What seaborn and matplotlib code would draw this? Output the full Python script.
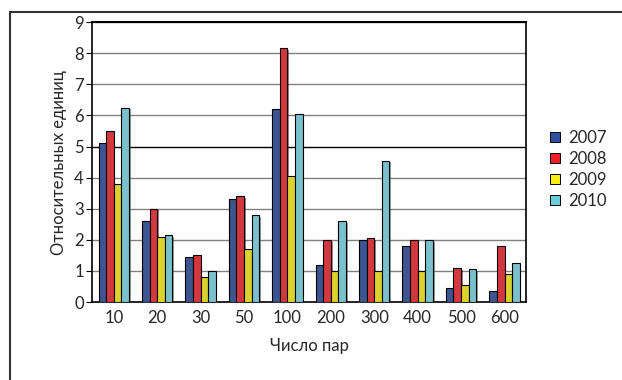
import numpy as np
import pandas as pd
import seaborn as sns
import matplotlib.pyplot as plt
from matplotlib.lines import Line2D
import matplotlib.patheffects as pe

# data
pairs = ['10', '20', '30', '50', '100', '200', '300', '400', '500', '600']
years = ['2007', '2008', '2009', '2010']
v2007 = [5.1, 2.6, 1.45, 3.3, 6.2, 1.2, 2.0, 1.8, 0.45, 0.35]
v2008 = [5.5, 3.0, 1.5, 3.4, 8.15, 2.0, 2.05, 1.98, 1.1, 1.8]
v2009 = [3.8, 2.1, 0.8, 1.7, 4.05, 1.0, 1.0, 1.0, 0.55, 0.9]
v2010 = [6.25, 2.15, 1.0, 2.8, 6.05, 2.6, 4.55, 2.0, 1.05, 1.25]
colors = ['#2f4f9f', '#ec1f26', '#f7ec13', '#6ccbdb']

df = pd.DataFrame({'pairs': pairs * 4,
                   'year': np.repeat(years, len(pairs)),
                   'value': v2007 + v2008 + v2009 + v2010})

sns.set_style('white')
plt.rcParams['font.family'] = ['Lato', 'DejaVu Sans']

fig = plt.figure(figsize=(6.22, 3.8), dpi=100)
ax = fig.add_axes([0.148, 0.205, 0.698, 0.737])

sns.barplot(data=df, x='pairs', y='value', hue='year', palette=colors,
            width=0.7, edgecolor='black', linewidth=0.8, ax=ax, legend=False,
            zorder=3)
for p in ax.patches:
    p.set_path_effects([pe.SimplePatchShadow(offset=(1.2, -1.2), alpha=0.5), pe.Normal()])

ax.set_ylim(0, 9)
ax.set_xlim(-0.5, 9.5)
ax.set_yticks(range(10))
for y in range(1, 10):
    ax.axhline(y, color='black' if y == 5 else '#808080', lw=1.0, zorder=1)

for s in ax.spines.values():
    s.set_color('black')
    s.set_linewidth(1.2)
ax.spines['top'].set_linewidth(1.5)

ax.set_xticks(np.arange(-0.5, 10, 1), minor=True)
ax.tick_params(axis='x', which='major', length=0, pad=6, labelsize=12)
ax.tick_params(axis='x', which='minor', length=4, color='black', direction='out')
ax.tick_params(axis='y', length=4, direction='out', color='black', labelsize=12, pad=2, left=True)
ax.set_xlabel('Число пар', fontsize=12, labelpad=8)
ax.set_ylabel('Относительных единиц', fontsize=12, labelpad=5)

handles = [Line2D([], [], marker='s', linestyle='none', markersize=6.5,
                  markerfacecolor=c, markeredgecolor='black', markeredgewidth=0.7)
           for c in colors]
fig.legend(handles, years, loc='center left', bbox_to_anchor=(0.855, 0.555),
           frameon=False, fontsize=12, handletextpad=0.3, labelspacing=0.3,
           handlelength=1.0)

# outer frame (top and left only)
fig.add_artist(Line2D([0.016, 1.0], [0.968, 0.968], color='#333333', lw=1.5, transform=fig.transFigure))
fig.add_artist(Line2D([0.016, 0.016], [0.0, 0.968], color='#333333', lw=1.5, transform=fig.transFigure))

fig.savefig('out.png', dpi=100)
